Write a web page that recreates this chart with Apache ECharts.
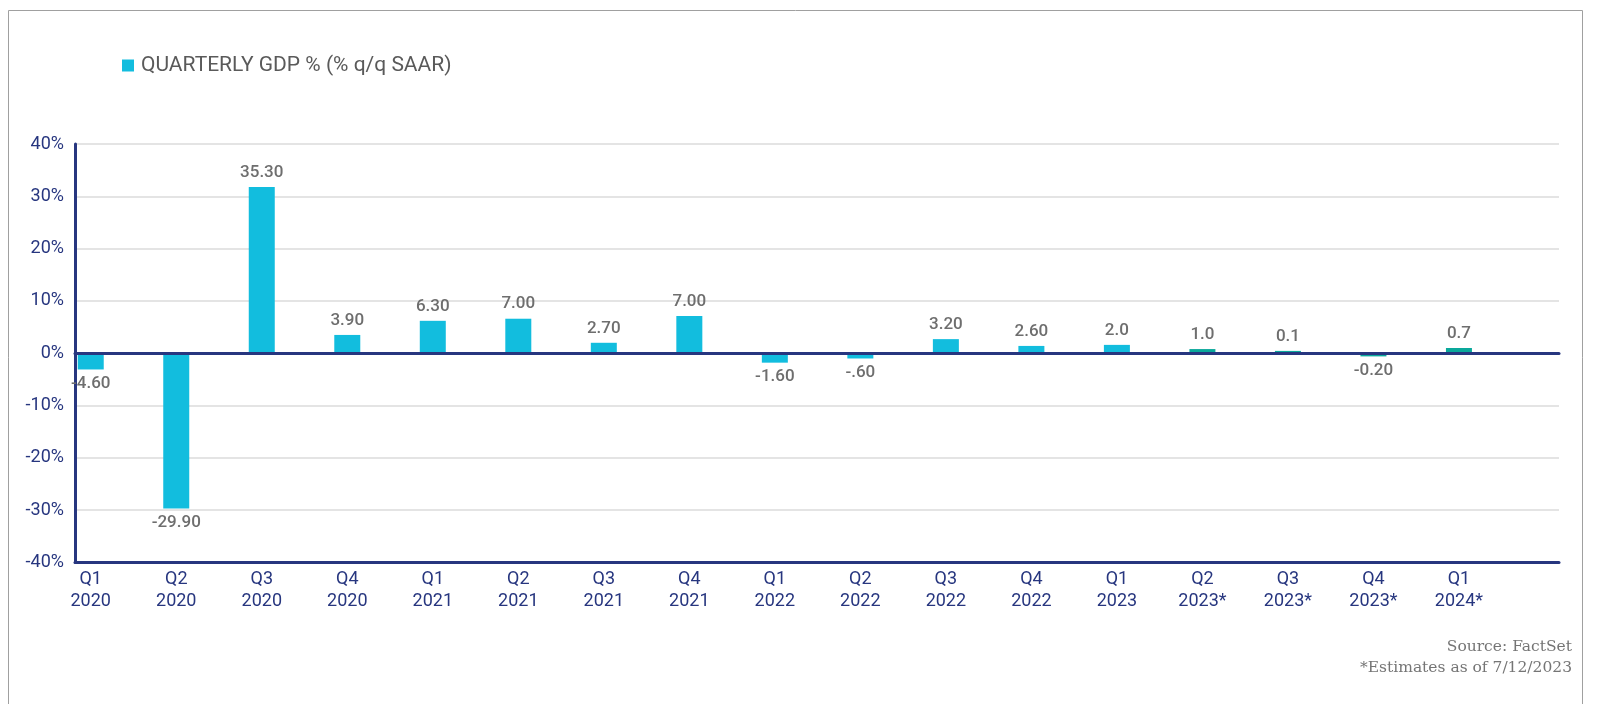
<!DOCTYPE html>
<html>
<head>
<meta charset="utf-8">
<script src="https://cdn.jsdelivr.net/npm/echarts@6/dist/echarts.min.js"></script>
<style>
html,body{margin:0;padding:0;background:#fff;}
#chart{width:1601px;height:704px;}
</style>
</head>
<body>
<div id="chart"></div>
<script>
// ---- data ----
var categories = ['Q1\n2020','Q2\n2020','Q3\n2020','Q4\n2020','Q1\n2021','Q2\n2021','Q3\n2021','Q4\n2021',
  'Q1\n2022','Q2\n2022','Q3\n2022','Q4\n2022','Q1\n2023','Q2\n2023*','Q3\n2023*','Q4\n2023*','Q1\n2024*'];
// bar heights as drawn in the picture (% q/q SAAR)
var barValues = [-3.1, -29.7, 31.8, 3.5, 6.2, 6.6, 2.0, 7.1, -1.8, -1.0, 2.7, 1.4, 1.6, 0.8, 0.45, -0.6, 1.0];
// printed data labels
var labelTexts = ['-4.60','-29.90','35.30','3.90','6.30','7.00','2.70','7.00','-1.60','-.60','3.20','2.60','2.0','1.0','0.1','-0.20','0.7'];
var yTicks = [-40, -30, -20, -10, 0, 10, 20, 30, 40];
var seriesName = 'QUARTERLY GDP % (% q/q SAAR)';
var sourceLines = ['Source: FactSet', '*Estimates as of 7/12/2023'];

var CYAN = '#12BDDE', TEAL = '#0AA89B', NAVY = '#27367F';
var FONT = 'Roboto';

// x value axis geometry: category i centered at index i
var xMin = -0.184, xMax = 17.17;

var chart = echarts.init(document.getElementById('chart'), null, {renderer: 'canvas'});
var data = barValues.map(function (v, i) {
  var est = /\*$/.test(categories[i]);
  return {
    value: [i, v],
    itemStyle: {color: est ? TEAL : CYAN},
    label: {position: v < 0 ? 'bottom' : 'top'}
  };
});

chart.setOption({
  backgroundColor: '#fff',
  animation: false,
  graphic: [
    {type: 'rect', shape: {x: 8.5, y: 10.5, width: 1574, height: 760},
     style: {fill: 'none', stroke: '#a0a0a0', lineWidth: 1}, z: -1},
    {type: 'text', x: 1572, y: 647,
     style: {text: sourceLines[0], font: '15.5px "DejaVu Serif"', fill: '#757575',
             textAlign: 'right', textVerticalAlign: 'middle', align: 'right', verticalAlign: 'middle'}},
    {type: 'text', x: 1572, y: 668,
     style: {text: sourceLines[1], font: '15.5px "DejaVu Serif"', fill: '#757575',
             textAlign: 'right', textVerticalAlign: 'middle', align: 'right', verticalAlign: 'middle'}}
  ],
  legend: {
    left: 122, top: 55, padding: 0,
    icon: 'rect', itemWidth: 12, itemHeight: 12, itemGap: 10,
    textStyle: {fontFamily: FONT, fontSize: 21, color: '#5a5a5a', padding: [0, 0, 0, 2]},
    data: [{name: seriesName, itemStyle: {color: CYAN}}]
  },
  grid: {left: 75, right: 42, top: 144, bottom: 141.5, containLabel: false},
  xAxis: [
    {
      type: 'value', min: xMin, max: xMax,
      axisLine: {show: true, onZero: false, lineStyle: {color: NAVY, width: 3}},
      axisTick: {show: false},
      splitLine: {show: false},
      axisLabel: {
        customValues: categories.map(function (c, i) { return i; }),
        formatter: function (v) { return categories[Math.round(v)] || ''; },
        color: NAVY, fontFamily: FONT, fontSize: 18, lineHeight: 22, margin: 6,
        showMinLabel: true, showMaxLabel: true
      },
      z: 5
    },
    {
      type: 'value', min: xMin, max: xMax, position: 'bottom',
      axisLine: {show: true, onZero: true, lineStyle: {color: NAVY, width: 3}},
      axisTick: {show: false}, axisLabel: {show: false}, splitLine: {show: false},
      z: 5
    }
  ],
  yAxis: {
    type: 'value', min: yTicks[0], max: yTicks[yTicks.length - 1], interval: 10,
    axisLine: {show: true, onZero: false, lineStyle: {color: NAVY, width: 3}},
    axisTick: {show: false},
    splitLine: {show: true, lineStyle: {color: '#e4e4e4', width: 2}},
    axisLabel: {
      formatter: function (v) { return v + '%'; },
      color: NAVY, fontFamily: FONT, fontSize: 18, margin: 11
    }
  },
  series: [{
    name: seriesName, type: 'bar', xAxisIndex: 0,
    barWidth: 26,
    color: CYAN,
    data: data,
    label: {
      show: true, distance: 6,
      color: '#6e6e6e', fontFamily: FONT, fontSize: 17, fontWeight: 500,
      formatter: function (p) { return labelTexts[p.dataIndex]; }
    },
    z: 2
  }]
});
</script>
</body>
</html>
